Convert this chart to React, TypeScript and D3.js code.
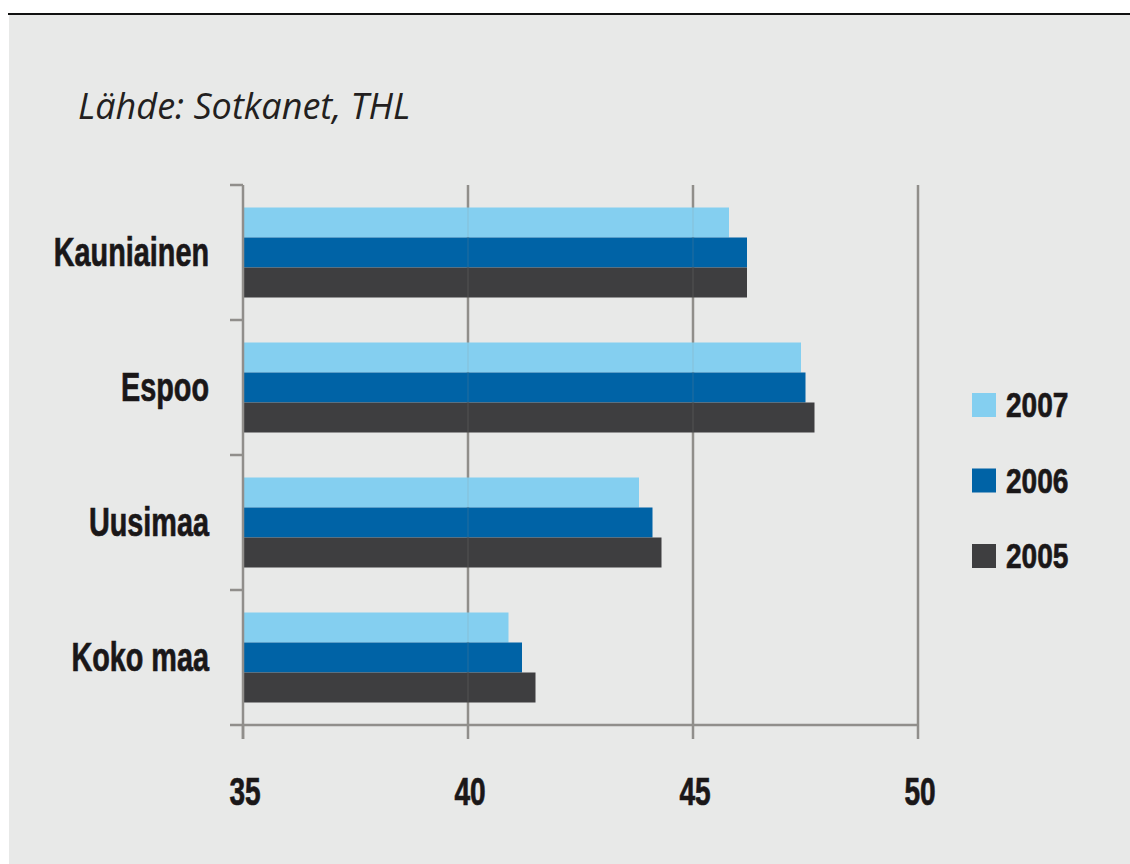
import React, { useEffect, useRef } from 'react';
import * as d3 from 'd3';

// data
const regions = ['Kauniainen', 'Espoo', 'Uusimaa', 'Koko maa'];
const years = ['2007', '2006', '2005'];
const values2007 = [45.8, 47.4, 43.8, 40.9];
const values2006 = [46.2, 47.5, 44.1, 41.2];
const values2005 = [46.2, 47.7, 44.3, 41.5];
const xTicks = [35, 40, 45, 50];
const yearColors = ['#84cff0', '#0063a6', '#3e3e40'];
const sourceText = 'Lähde: Sotkanet, THL';

const WIDTH = 1130;
const HEIGHT = 864;
// no condensed font installed, so a bold sans is squeezed horizontally
const boldFont = '"Liberation Sans", Arial, sans-serif';

const App = () => {
    const svgRef = useRef<SVGSVGElement>(null);

    useEffect(() => {
        const svg = d3.select(svgRef.current);
        svg.selectAll('*').remove();

        const seriesByYear: Record<string, number[]> = {
            '2007': values2007,
            '2006': values2006,
            '2005': values2005,
        };
        const rows = regions.map((r, i) => ({
            region: r,
            bars: years.map(y => ({ year: y, value: seriesByYear[y][i] })),
        }));

        const plot = { left: 243, right: 918, top: 185, bottom: 725 };
        const axisColor = '#908e8b';
        const textColor = '#1a1718';

        // backdrop
        svg.append('rect').attr('width', WIDTH).attr('height', HEIGHT).attr('fill', '#ffffff');
        svg.append('rect')
            .attr('x', 9).attr('y', 15)
            .attr('width', WIDTH - 9).attr('height', HEIGHT - 15)
            .attr('fill', '#e8e9e8');
        svg.append('line')
            .attr('x1', 8).attr('x2', WIDTH)
            .attr('y1', 14).attr('y2', 14)
            .attr('stroke', '#111').attr('stroke-width', 2);

        // source note
        svg.append('text')
            .attr('x', 78).attr('y', 119)
            .attr('font-family', '"Open Sans", sans-serif')
            .attr('font-style', 'italic')
            .attr('font-size', 36)
            .attr('fill', '#231f20')
            .text(sourceText);

        const x = d3.scaleLinear().domain([35, 50]).range([plot.left, plot.right]);
        const y = d3.scaleBand<string>()
            .domain(regions)
            .range([plot.top, plot.bottom])
            .paddingInner(1 / 3)
            .paddingOuter(1 / 6);
        const yInner = d3.scaleBand<string>().domain(years).range([0, y.bandwidth()]);
        const color = d3.scaleOrdinal<string, string>().domain(years).range(yearColors);

        // vertical gridlines
        svg.append('g')
            .selectAll('line')
            .data(xTicks.slice(1))
            .join('line')
            .attr('x1', d => x(d)).attr('x2', d => x(d))
            .attr('y1', plot.top).attr('y2', plot.bottom)
            .attr('stroke', axisColor).attr('stroke-width', 2.5);

        // bars
        const groups = svg.append('g')
            .selectAll('g')
            .data(rows)
            .join('g')
            .attr('transform', d => `translate(0, ${y(d.region)})`);

        groups.selectAll('rect')
            .data(d => d.bars)
            .join('rect')
            .attr('x', x(35))
            .attr('y', d => yInner(d.year)!)
            .attr('width', d => x(d.value) - x(35))
            .attr('height', yInner.bandwidth())
            .attr('fill', d => color(d.year));

        // faint gridline showing through the bars
        svg.append('g')
            .selectAll('line')
            .data(xTicks.slice(1))
            .join('line')
            .attr('x1', d => x(d)).attr('x2', d => x(d))
            .attr('y1', plot.top).attr('y2', plot.bottom)
            .attr('stroke', axisColor).attr('stroke-width', 1).attr('stroke-opacity', 0.25);

        // left axis with ticks between categories
        const step = y.step();
        const yTickPos = d3.range(regions.length + 1).map(i => plot.top + i * step);
        const leftAxis = svg.append('g');
        leftAxis.append('line')
            .attr('x1', plot.left).attr('x2', plot.left)
            .attr('y1', plot.top).attr('y2', plot.bottom + 14)
            .attr('stroke', axisColor).attr('stroke-width', 2.5);
        leftAxis.selectAll('line.tick')
            .data(yTickPos)
            .join('line')
            .attr('class', 'tick')
            .attr('x1', plot.left - 13).attr('x2', plot.left)
            .attr('y1', d => d).attr('y2', d => d)
            .attr('stroke', axisColor).attr('stroke-width', 2.5);

        // bottom axis
        const bottomAxis = svg.append('g');
        bottomAxis.append('line')
            .attr('x1', plot.left).attr('x2', plot.right)
            .attr('y1', plot.bottom).attr('y2', plot.bottom)
            .attr('stroke', axisColor).attr('stroke-width', 2.5);
        bottomAxis.selectAll('line.tick')
            .data(xTicks)
            .join('line')
            .attr('class', 'tick')
            .attr('x1', d => x(d)).attr('x2', d => x(d))
            .attr('y1', plot.bottom).attr('y2', plot.bottom + 14)
            .attr('stroke', axisColor).attr('stroke-width', 2.5);
        bottomAxis.selectAll('text')
            .data(xTicks)
            .join('text')
            .attr('transform', d => `translate(${x(d) + 2}, 805) scale(0.72, 1)`)
            .attr('text-anchor', 'middle')
            .attr('font-family', boldFont)
            .attr('font-weight', 'bold')
            .attr('font-size', 39)
            .attr('fill', textColor)
            .attr('stroke', textColor)
            .attr('stroke-width', 0.7)
            .text(d => d);

        // category labels
        svg.append('g')
            .selectAll('text')
            .data(regions)
            .join('text')
            .attr('transform', d => `translate(209, ${y(d)! + y.bandwidth() / 2 + 13}) scale(0.72, 1)`)
            .attr('text-anchor', 'end')
            .attr('font-family', boldFont)
            .attr('font-weight', 'bold')
            .attr('font-size', 40)
            .attr('fill', textColor)
            .attr('stroke', textColor)
            .attr('stroke-width', 0.7)
            .text(d => d);

        // legend
        const legend = svg.append('g').attr('transform', 'translate(972, 393)');
        const legendRow = legend.selectAll('g')
            .data(years)
            .join('g')
            .attr('transform', (d, i) => `translate(0, ${i * 75.5})`);
        legendRow.append('rect')
            .attr('width', 24).attr('height', 24)
            .attr('fill', d => color(d));
        legendRow.append('text')
            .attr('transform', 'translate(34, 24) scale(0.78, 1)')
            .attr('font-family', boldFont)
            .attr('font-weight', 'bold')
            .attr('font-size', 36)
            .attr('fill', textColor)
            .attr('stroke', textColor)
            .attr('stroke-width', 0.7)
            .text(d => d);
    }, []);

    return (
        <svg
            ref={svgRef}
            width={WIDTH}
            height={HEIGHT}
            style={{ position: 'absolute', left: 0, top: 0, display: 'block' }}
        />
    );
};

export default App;
